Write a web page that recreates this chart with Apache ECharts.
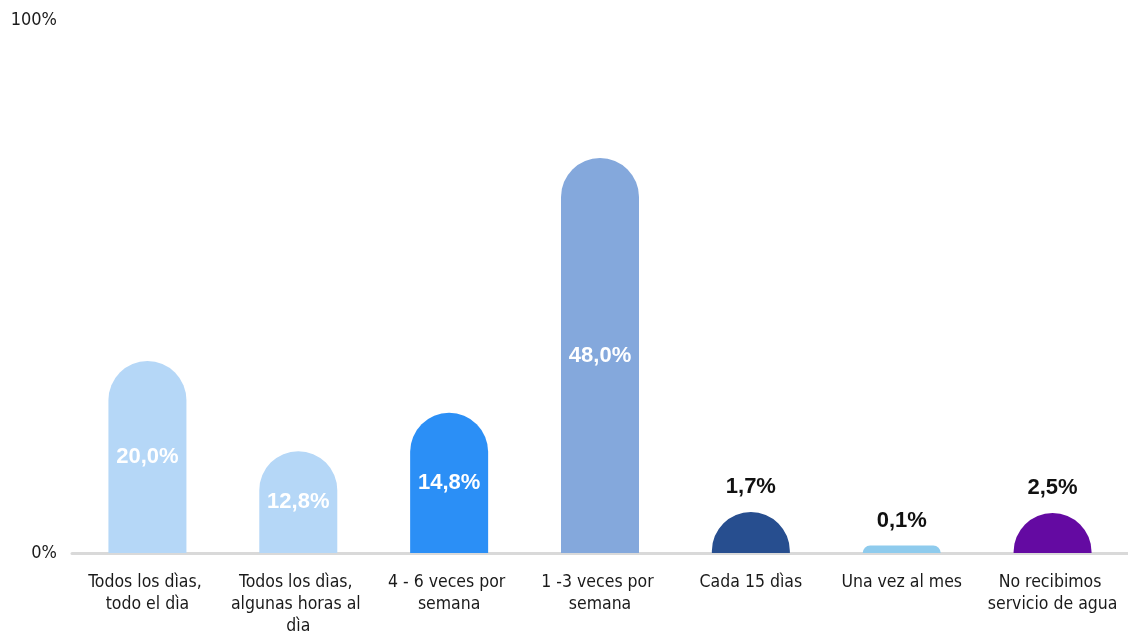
<!DOCTYPE html>
<html>
<head>
<meta charset="utf-8">
<script src="https://cdn.jsdelivr.net/npm/echarts@6/dist/echarts.min.js"></script>
<style>html,body{margin:0;padding:0;background:#fff;overflow:hidden}#c{width:1128px;height:632px}</style>
</head>
<body>
<div id="c"></div>
<script>
// Categories (x axis)
const categories = [
  'Todos los dìas, todo el dìa',
  'Todos los dìas, algunas horas al dìa',
  '4 - 6 veces por semana',
  '1 -3 veces por semana',
  'Cada 15 dìas',
  'Una vez al mes',
  'No recibimos servicio de agua'
];
// Bar heights as drawn, read against the 0%–100% axis of the picture
const barHeights = [36.0, 19.1, 26.3, 74.1, 7.7, 1.4, 7.5];
// Printed value labels
const valueLabels = ['20,0%', '12,8%', '14,8%', '48,0%', '1,7%', '0,1%', '2,5%'];
// Label placement: inside (white) or above (black)
const labelInside = [true, true, true, true, false, false, false];
const barColors = ['#b5d7f7', '#b5d7f7', '#2b8ff6', '#84a8dc', '#274e8f', '#8ecbed', '#640aa2'];
// Y axis tick labels
const yTicks = [0, 100];

const data = barHeights.map((v, i) => ({
  value: v,
  itemStyle: { color: barColors[i] },
  label: labelInside[i]
    ? { position: 'inside', color: '#ffffff' }
    : { position: 'top', color: '#111111', distance: 14 }
}));

const chart = echarts.init(document.getElementById('c'), null, { renderer: 'canvas' });
chart.setOption({
  animation: false,
  backgroundColor: '#ffffff',
  grid: { left: 72, right: 0, top: 20, bottom: 79, containLabel: false, outerBoundsMode: 'none' },
  xAxis: {
    type: 'category',
    data: categories,
    axisLine: { show: true, lineStyle: { color: '#d9d9d9', width: 3 } },
    axisTick: { show: false },
    axisLabel: {
      interval: 0,
      margin: 18,
      color: '#1a1a1a',
      fontFamily: 'DejaVu Sans Condensed',
      fontSize: 17.5,
      lineHeight: 22,
      width: 145,
      overflow: 'break'
    }
  },
  yAxis: {
    type: 'value',
    min: yTicks[0],
    max: yTicks[1],
    interval: yTicks[1] - yTicks[0],
    splitLine: { show: false },
    axisLine: { show: false },
    axisTick: { show: false },
    axisLabel: {
      formatter: '{value}%',
      margin: 15,
      color: '#1a1a1a',
      fontFamily: 'DejaVu Sans Condensed',
      fontSize: 18
    }
  },
  series: [{
    type: 'bar',
    data: data,
    barWidth: 78,
    itemStyle: { borderRadius: [39, 39, 0, 0] },
    label: {
      show: true,
      formatter: p => valueLabels[p.dataIndex],
      fontFamily: 'Liberation Sans',
      fontWeight: 'bold',
      fontSize: 22
    }
  }]
});
</script>
</body>
</html>
